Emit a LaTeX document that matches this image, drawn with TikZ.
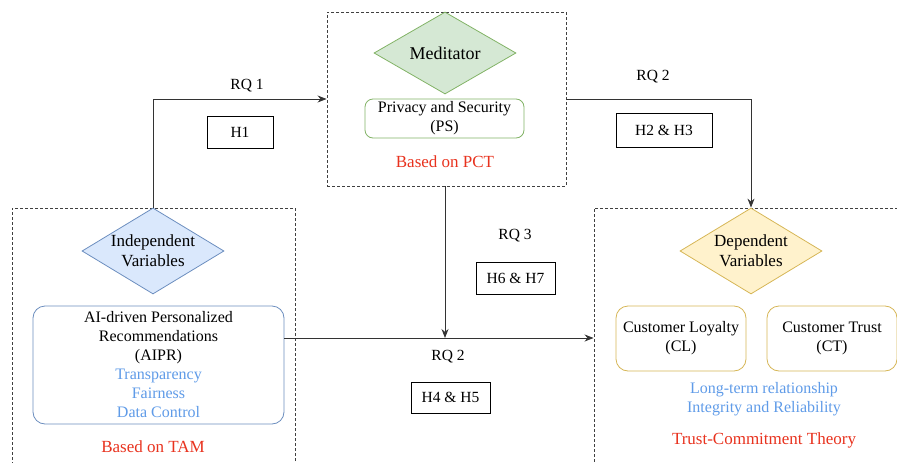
\documentclass[tikz,border=0pt]{standalone}
\usepackage{fontspec}
\setmainfont{Liberation Serif}
\usetikzlibrary{positioning, shapes.geometric, arrows.meta}

\definecolor{indfill}{HTML}{DAE8FC}
\definecolor{indline}{HTML}{6C8EBF}
\definecolor{medfill}{HTML}{D5E8D4}
\definecolor{medline}{HTML}{82B366}
\definecolor{depfill}{HTML}{FFF2CC}
\definecolor{depline}{HTML}{D6B656}
\definecolor{noteblue}{HTML}{5F9BE8}
\definecolor{notered}{HTML}{E8321E}

\begin{document}
\begin{tikzpicture}[
    x=1pt, y=-1pt,
    frame/.style={rectangle, draw=black!75, dash pattern=on 3pt off 2pt, line width=0.9pt},
    vardiamond/.style={diamond, draw, line width=0.8pt, minimum width=142pt, minimum height=86pt, inner sep=0pt},
    varbox/.style={rectangle, rounded corners=12pt, draw, line width=0.8pt, fill=white, align=center, font=\fontsize{16}{19}\selectfont},
    hyp/.style={rectangle, draw, line width=0.9pt, font=\fontsize{15.5}{18}\selectfont},
    rq/.style={font=\fontsize{15.5}{18}\selectfont},
    theory/.style={text=notered, font=\fontsize{17}{20}\selectfont},
    link/.style={draw=black!80, line width=0.9pt},
    arrowlink/.style={link, -{Stealth[length=9pt, width=7pt]}}
]
\clip (0,0) rectangle (897,463);

% Frames
\node[frame, minimum width=283pt, minimum height=270pt] (indframe) at (153.5,343) {};
\node[frame, minimum width=239pt, minimum height=174pt] (medframe) at (446.5,99) {};
\node[frame, minimum width=332pt, minimum height=270pt] (depframe) at (760,343) {};

% Independent side
\node[vardiamond, fill=indfill, draw=indline,
      label={[align=center, font=\fontsize{17}{20}\selectfont]center:Independent\\Variables}] (ind) at (153,251) {};
\node[varbox, draw=indline, minimum width=251pt, minimum height=118pt] (aipr) at (158.5,365)
    {AI-driven Personalized\\Recommendations\\(AIPR)\\
     \textcolor{noteblue}{Transparency}\\\textcolor{noteblue}{Fairness}\\\textcolor{noteblue}{Data Control}};
\node[theory] (tam) at (153,447) {Based on TAM};

% Mediator
\node[vardiamond, fill=medfill, draw=medline, minimum height=82pt,
      label={[font=\fontsize{18}{20}\selectfont]center:Meditator}] (med) at (445,53) {};
\node[varbox, draw=medline, rounded corners=8pt, minimum width=159pt, minimum height=39pt, inner sep=1pt] (ps) at (444.5,118.5)
    {Privacy and Security\\(PS)};
\node[theory] (pct) at (445,162) {Based on PCT};

% Dependent side
\node[vardiamond, fill=depfill, draw=depline,
      label={[align=center, font=\fontsize{17}{20}\selectfont]center:Dependent\\Variables}] (dep) at (751,251) {};
\node[varbox, draw=depline, minimum width=130pt, minimum height=65pt] (cl) at (681,338.5) {Customer Loyalty\\(CL)};
\node[varbox, draw=depline, minimum width=130pt, minimum height=65pt] (ct) at (832,338.5) {Customer Trust\\(CT)};
\node[align=center, text=noteblue, font=\fontsize{16}{19}\selectfont] (dnotes) at (764,399)
    {Long-term relationship\\Integrity and Reliability};
\node[theory] (tct) at (764,440) {Trust-Commitment Theory};

% Connectors
\coordinate (join) at (445,338);
\draw[arrowlink] (ind.north) |- (medframe.west);
\draw[arrowlink] (medframe.east) -| (dep.north);
\draw[arrowlink] (join |- medframe.south) -- (join);
\draw[arrowlink] (aipr.east |- join) -- (depframe.west |- join);

% Research questions and hypotheses
\node[rq] (rq1) at (247,86) {RQ 1};
\node[hyp, minimum width=66pt, minimum height=32pt] (h1) at (240,132) {H1};
\node[rq] (rq2a) at (653,77) {RQ 2};
\node[hyp, minimum width=96pt, minimum height=34pt] (h23) at (664,130) {H2 \& H3};
\node[rq] (rq3) at (515,236) {RQ 3};
\node[hyp, minimum width=79pt, minimum height=32pt] (h67) at (515.5,278) {H6 \& H7};
\node[rq] (rq2b) at (448,357) {RQ 2};
\node[hyp, minimum width=79pt, minimum height=31pt] (h45) at (450.5,397.5) {H4 \& H5};

\end{tikzpicture}
\end{document}
